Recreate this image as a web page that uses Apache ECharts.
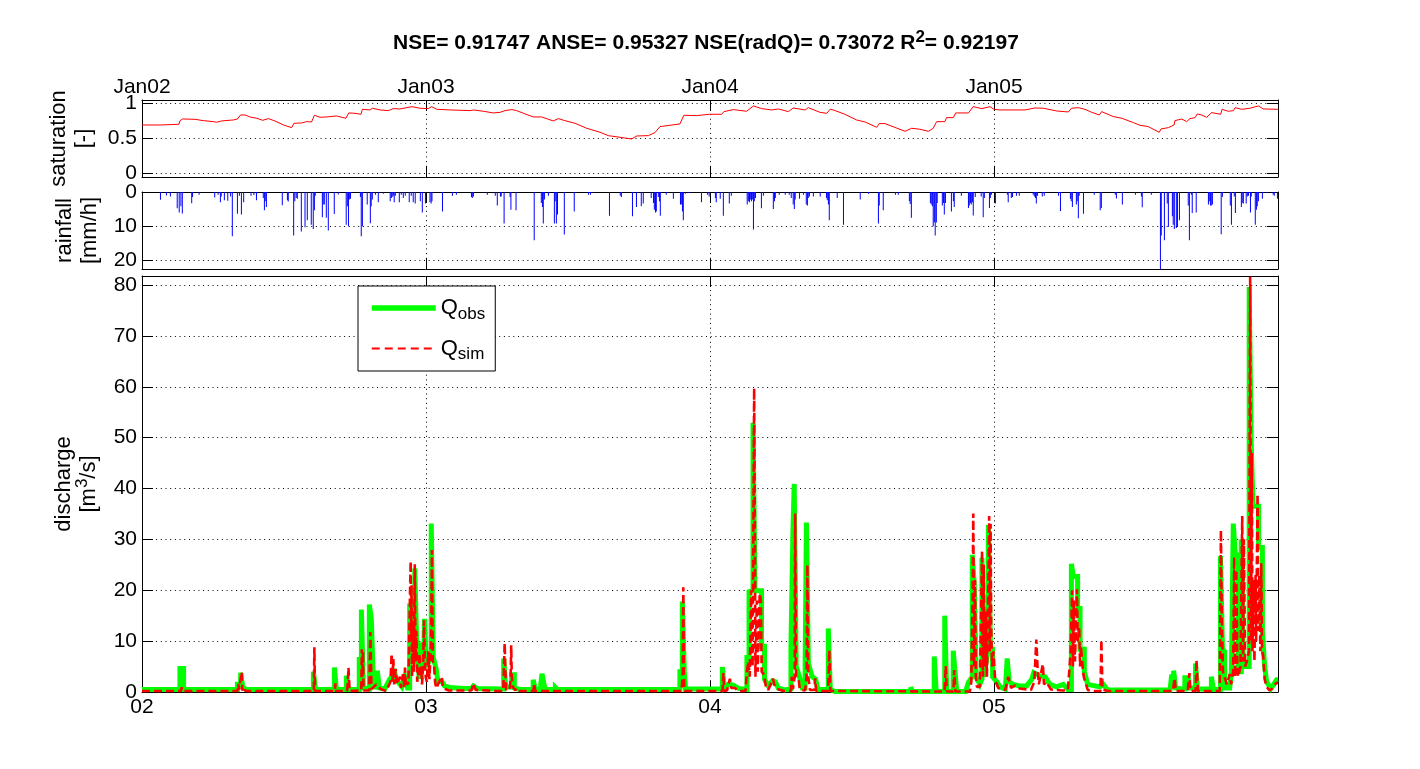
<!DOCTYPE html>
<html><head><meta charset="utf-8">
<style>html,body{margin:0;padding:0;background:#fff}#c{width:1420px;height:769px}</style>
<script src="https://cdn.jsdelivr.net/npm/echarts@6/dist/echarts.min.js"></script></head>
<body><div id="c"></div>
<script>
// x values are years after Jan 02 (0..4)
const topTickLabels = ['Jan02','Jan03','Jan04','Jan05'];
const bottomTickLabels = ['02','03','04','05'];
const satTicks = [0,0.5,1];
const rainTicks = [0,10,20];
const qTicks = [0,10,20,30,40,50,60,70,80];

const saturation = [[0,.69],[.063,.69],[.065,.70],[.130,.70],[.134,.752],[.143,.776],[.187,.771],[.216,.752],[.251,.738],[.263,.729],[.281,.748],[.322,.762],[.336,.776],[.347,.833],[.363,.833],[.380,.805],[.404,.786],[.425,.757],[.445,.781],[.468,.748],[.498,.69],[.527,.652],[.535,.714],[.562,.719],[.580,.738],[.597,.733],[.607,.829],[.627,.80],[.650,.805],[.656,.833],[.685,.819],[.718,.786],[.728,.862],[.750,.857],[.771,.843],[.776,.914],[.803,.905],[.812,.929],[.838,.905],[.867,.895],[.885,.924],[.908,.919],[.950,.952],[.979,.929],[1.008,.924],[1.020,.952],[1.038,.914],[1.085,.905],[1.155,.895],[1.167,.905],[1.202,.886],[1.237,.862],[1.261,.871],[1.278,.895],[1.302,.91],[1.319,.895],[1.349,.848],[1.378,.805],[1.407,.805],[1.448,.748],[1.466,.781],[1.489,.752],[1.525,.714],[1.566,.643],[1.613,.586],[1.642,.538],[1.648,.552],[1.683,.514],[1.724,.49],[1.742,.533],[1.783,.538],[1.806,.581],[1.824,.667],[1.894,.705],[1.908,.829],[1.953,.824],[1.998,.843],[2.041,.843],[2.049,.881],[2.082,.91],[2.129,.886],[2.153,.962],[2.182,.924],[2.217,.905],[2.241,.919],[2.276,.881],[2.293,.933],[2.335,.905],[2.346,.938],[2.387,.871],[2.411,.857],[2.423,.914],[2.434,.905],[2.475,.843],[2.516,.762],[2.546,.733],[2.587,.657],[2.596,.71],[2.616,.71],[2.687,.6],[2.710,.643],[2.739,.629],[2.769,.6],[2.786,.643],[2.798,.738],[2.827,.738],[2.833,.795],[2.857,.795],[2.865,.862],[2.910,.862],[2.927,.952],[2.957,.924],[2.962,.948],[2.986,.952],[3.0,.914],[3.021,.905],[3.109,.905],[3.144,.933],[3.174,.929],[3.221,.89],[3.262,.876],[3.273,.929],[3.297,.938],[3.320,.914],[3.344,.871],[3.371,.833],[3.379,.881],[3.420,.81],[3.450,.786],[3.491,.724],[3.514,.686],[3.543,.667],[3.582,.586],[3.588,.633],[3.614,.652],[3.634,.69],[3.637,.752],[3.661,.776],[3.678,.738],[3.690,.781],[3.708,.795],[3.716,.848],[3.731,.833],[3.749,.80],[3.766,.867],[3.798,.843],[3.803,.914],[3.825,.886],[3.843,.895],[3.849,.938],[3.872,.914],[3.878,.938],[3.901,.929],[3.907,.952],[3.931,.962],[3.948,.919],[4,.914]];

const rainfall = [[.065,2.3],[.086,1],[.100,1.3],[.124,4.8],[.131,6],[.137,4.2],[.142,6.3],[.175,3.3],[.178,1.5],[.201,.8],[.256,1.6],[.268,.8],[.276,3],[.279,1.3],[.290,2.4],[.302,2.6],[.312,1.3],[.318,13],[.336,6.4],[.343,1.1],[.350,6.6],[.358,3],[.384,1.1],[.394,.9],[.403,2.4],[.427,1.8],[.431,5.4],[.434,2.7],[.438,4.4],[.494,3.9],[.512,2.4],[.515,2.8],[.534,12.8],[.538,2.7],[.543,1.8],[.547,2],[.561,11.6],[.574,10.4],[.582,8.3],[.596,9.6],[.603,10.9],[.607,5.4],[.610,1.1],[.635,7.4],[.638,3.7],[.642,3.7],[.649,7.6],[.656,11.3],[.677,6.5],[.691,.7],[.719,9.6],[.723,4.2],[.727,10.1],[.730,2.2],[.734,2],[.769,1.5],[.772,13],[.776,10.1],[.793,3.7],[.804,9.2],[.807,4.2],[.811,2.2],[.822,.8],[.832,3],[.850,.5],[.874,2.7],[.878,1.8],[.881,1.5],[.885,1.1],[.888,3],[.892,1.1],[.906,3],[.913,.8],[.920,1.8],[.927,1.1],[.941,3],[.948,1.1],[.955,3],[.962,3.4],[.980,2.7],[.987,6],[.998,3.4],[1.014,3],[1.018,3.4],[1.021,2.7],[1.058,5.7],[1.093,1.1],[1.107,.8],[1.160,1.5],[1.163,1.8],[1.167,1.3],[1.216,.8],[1.244,1.1],[1.251,4],[1.262,1.3],[1.265,1.3],[1.275,9.3],[1.296,1.5],[1.299,5.2],[1.317,5.4],[1.381,14.2],[1.406,3.2],[1.410,4.4],[1.413,9.3],[1.417,2.2],[1.431,1.1],[1.452,9.3],[1.455,2.7],[1.459,9.3],[1.463,6.6],[1.487,12.5],[1.522,5.7],[1.572,.8],[1.579,.8],[1.589,.3],[1.646,7],[1.684,1.1],[1.688,1.5],[1.727,7.1],[1.741,4.4],[1.758,4.2],[1.765,3.4],[1.793,1.8],[1.801,3.2],[1.804,5.2],[1.808,6],[1.811,5.7],[1.818,1.5],[1.822,2.7],[1.825,7],[1.846,.8],[1.871,2],[1.896,3.7],[1.899,3.7],[1.903,5.7],[1.906,8.3],[1.913,.5],[1.924,.3],[1.970,3],[1.991,.8],[1.997,1.3],[2.019,1.8],[2.022,3],[2.036,2],[2.047,7],[2.068,3.4],[2.075,1.1],[2.131,3.7],[2.135,2.7],[2.139,3],[2.142,2.2],[2.146,2.7],[2.149,2.2],[2.153,11],[2.156,2.7],[2.160,1.8],[2.181,4.8],[2.188,1.1],[2.223,5],[2.227,2.7],[2.230,1.8],[2.244,.8],[2.265,.8],[2.279,.8],[2.286,1.8],[2.293,3.7],[2.297,5],[2.300,2.2],[2.315,2],[2.329,.8],[2.339,3.7],[2.343,4],[2.346,1.8],[2.350,1.3],[2.364,1.3],[2.388,1.3],[2.410,1.8],[2.413,2.4],[2.417,3.7],[2.420,8.3],[2.448,1.8],[2.470,9.6],[2.529,2.2],[2.558,.5],[2.593,9.3],[2.596,4],[2.610,5.4],[2.653,.8],[2.663,.8],[2.702,2.7],[2.705,3.5],[2.709,7.6],[2.776,3.2],[2.779,3.7],[2.783,4.2],[2.786,10.1],[2.790,8.9],[2.793,12.8],[2.797,9],[2.800,3.2],[2.818,4],[2.822,3.2],[2.825,6.6],[2.829,3.2],[2.850,5.7],[2.857,2.7],[2.860,4.4],[2.885,1.1],[2.910,4.7],[2.913,4],[2.917,3.2],[2.920,3.7],[2.924,3],[2.927,6.9],[2.934,1.5],[2.955,1.3],[2.962,7.4],[2.966,1.8],[2.984,4.7],[2.987,1.8],[2.991,.8],[3.005,3.4],[3.047,.8],[3.050,3],[3.061,1.8],[3.065,1.5],[3.079,1.1],[3.089,1.1],[3.138,.8],[3.142,1.3],[3.146,1.8],[3.149,3.4],[3.153,1.1],[3.170,1.3],[3.177,1.1],[3.227,1.1],[3.234,5.6],[3.269,2],[3.272,2.7],[3.276,4.4],[3.290,3.7],[3.293,2.7],[3.297,7.7],[3.300,1.1],[3.315,6.4],[3.353,.8],[3.374,5.4],[3.378,4.7],[3.427,.8],[3.431,1.9],[3.452,3.7],[3.498,.8],[3.519,1.3],[3.522,4.5],[3.554,.8],[3.586,23],[3.589,12.8],[3.600,14.2],[3.610,3.4],[3.614,10.3],[3.628,7.1],[3.631,9.6],[3.635,10.9],[3.642,10.6],[3.646,10.3],[3.653,8.3],[3.684,4],[3.688,14.2],[3.695,.8],[3.698,6.2],[3.712,6],[3.755,3.7],[3.758,2.7],[3.762,4],[3.765,4],[3.769,3.7],[3.800,12.4],[3.804,1.5],[3.832,4],[3.836,9.6],[3.846,1.3],[3.850,6.2],[3.871,4.4],[3.874,3.2],[3.878,3.4],[3.888,3.4],[3.892,1.3],[3.896,1.1],[3.903,6],[3.906,1.3],[3.920,9.6],[3.924,5.2],[3.927,4.2],[3.931,2.7],[3.945,2],[3.959,.3],[3.983,.8],[3.987,1.1],[3.998,2]];

const qObs = [[0,.5],[.1335,.5],[.1335,4.6],[.1465,4.6],[.1465,.5],[.336,.5],[.336,1.5],[.3475,1.5],[.3475,3.8],[.3545,3.8],[.3545,1],[.366,.5],[.6035,.5],[.6035,4],[.6105,4],[.6105,.5],[.6775,.5],[.6775,4.8],[.6845,4.8],[.6845,.5],[.7195,.5],[.7195,3.2],[.7265,3.2],[.7265,.5],[.765,.5],[.765,6.4],[.7725,6.4],[.7725,16.2],[.7795,16.2],[.7795,.8],[.8005,.6],[.8005,17.2],[.8075,17.2],[.8075,14.4],[.813,14.4],[.813,4.5],[.820,1],[.8285,1],[.8285,4.2],[.8355,4.2],[.8355,.8],[.855,.6],[.872,2.5],[.880,3],[.8875,3],[.8875,4.6],[.8945,4.6],[.8945,2.5],[.908,1.5],[.915,1],[.925,3],[.935,.8],[.9425,.8],[.9425,17.4],[.9495,17.4],[.9495,6],[.9605,6],[.9605,24.3],[.9675,24.3],[.9675,9],[.976,3],[.9845,3],[.9845,9.8],[.9915,9.8],[.9915,5],[.9945,5],[.9945,14.4],[1.0015,14.4],[1.0015,5],[1.0185,7],[1.0185,33.1],[1.0255,33.1],[1.0255,6.8],[1.036,4.5],[1.042,2],[1.055,2.2],[1.065,1.2],[1.085,.9],[1.131,.7],[1.160,.7],[1.167,1.2],[1.18,.7],[1.265,.6],[1.2735,.6],[1.2735,6.6],[1.2805,6.6],[1.2805,1],[1.302,1],[1.302,3.4],[1.311,3.4],[1.311,.8],[1.33,.5],[1.3775,.5],[1.3775,2.4],[1.3845,2.4],[1.3845,.5],[1.404,.5],[1.404,1.5],[1.4085,1.5],[1.4085,3.6],[1.4155,3.6],[1.4155,1.5],[1.42,1.5],[1.42,.5],[1.4555,.5],[1.4555,.9],[1.4625,.9],[1.4625,.5],[1.894,.5],[1.894,4],[1.9025,4],[1.9025,17.8],[1.9095,17.8],[1.9095,4],[1.914,4],[1.914,.6],[2.0435,.6],[2.0435,4.9],[2.0505,4.9],[2.0505,.8],[2.065,1.5],[2.08,1.4],[2.10,.7],[2.13,.5],[2.13,6.8],[2.1375,6.8],[2.1375,19.7],[2.1445,19.7],[2.1445,20],[2.1515,20],[2.1515,52.9],[2.1585,52.9],[2.1585,19.9],[2.1815,19.9],[2.1815,9],[2.192,9],[2.192,2.5],[2.205,1.2],[2.22,2.2],[2.23,2],[2.24,.8],[2.262,.4],[2.285,.6],[2.285,8.8],[2.292,8.8],[2.292,31.5],[2.2965,31.5],[2.2965,40.9],[2.3035,40.9],[2.3035,5],[2.315,3],[2.325,.8],[2.335,.8],[2.335,6.2],[2.3395,6.2],[2.3395,33.3],[2.3465,33.3],[2.3465,5.5],[2.36,3],[2.372,2.5],[2.38,.5],[2.4165,.5],[2.4165,12.5],[2.4235,12.5],[2.4235,.5],[2.44,.1],[2.7065,.1],[2.7065,.9],[2.7135,.9],[2.7135,.1],[2.7895,.1],[2.7895,7],[2.7965,7],[2.7965,.1],[2.8265,.1],[2.8265,15],[2.8335,15],[2.8335,.1],[2.8565,.1],[2.8565,8.1],[2.8635,8.1],[2.8635,3.5],[2.869,3.5],[2.869,.1],[2.90,.1],[2.91,1.9],[2.9235,3],[2.9235,27],[2.9305,27],[2.9305,21.2],[2.937,21.2],[2.937,3],[2.95,1.5],[2.9575,2.5],[2.9575,26.4],[2.9645,26.4],[2.9645,3],[2.978,8],[2.9805,8],[2.9805,32.8],[2.9875,32.8],[2.9875,8.4],[2.995,8.4],[2.995,3],[3.01,2],[3.021,1],[3.04,.6],[3.0465,.6],[3.0465,6.6],[3.0535,6.6],[3.0535,2],[3.068,1.5],[3.09,1.2],[3.115,1.2],[3.133,2.5],[3.14,3.8],[3.16,3.2],[3.18,3],[3.197,1.5],[3.22,1],[3.244,1.5],[3.26,.5],[3.2725,.5],[3.2725,25.2],[3.2795,25.2],[3.2795,22.7],[3.2945,22.7],[3.2945,16.4],[3.303,16.4],[3.303,8.4],[3.318,8.4],[3.318,4],[3.33,1.5],[3.373,1],[3.385,1.5],[3.40,.4],[3.62,.4],[3.625,3],[3.6325,3],[3.6325,4.2],[3.6395,4.2],[3.6395,.8],[3.66,.6],[3.672,.6],[3.672,2.8],[3.684,2.8],[3.684,.8],[3.7095,.8],[3.7095,5.6],[3.7165,5.6],[3.7165,.6],[3.7655,.6],[3.7655,3],[3.7725,3],[3.7725,.5],[3.7975,.5],[3.7975,26.7],[3.8045,26.7],[3.8045,8.4],[3.812,8],[3.812,.8],[3.83,.8],[3.836,4],[3.8425,4],[3.8425,33.1],[3.8495,33.1],[3.8495,27.1],[3.86,27],[3.86,4],[3.8705,4],[3.8705,30],[3.8775,30],[3.8775,5],[3.8985,5],[3.8985,79.6],[3.9055,79.6],[3.9055,49.3],[3.912,49.3],[3.912,36.5],[3.9315,36.5],[3.9315,28.4],[3.945,28.4],[3.945,12],[3.953,5],[3.96,2],[3.975,.7],[3.985,1.5],[3.995,2.4],[4,2.4]];

const qSim = [[0,.2],[.137,.2],[.14,.9],[.143,.2],[.336,.2],[.339,1.6],[.342,.5],[.349,.5],[.351,3.9],[.353,.3],[.360,1],[.364,.2],[.605,.2],[.607,8.8],[.609,.2],[.679,.2],[.681,1.7],[.683,.2],[.722,.2],[.725,2],[.727,4.8],[.729,2.5],[.731,.2],[.772,.3],[.774,8.4],[.776,3],[.778,8],[.78,.3],[.80,.3],[.804,11.8],[.808,.6],[.815,.3],[.825,1.5],[.83,1.6],[.84,.6],[.86,.2],[.875,2],[.879,7.5],[.882,2],[.885,6.5],[.888,1.5],[.893,4.5],[.898,1.5],[.908,3],[.912,.8],[.919,3.5],[.924,1],[.926,4.8],[.929,1],[.935,2],[.938,1.5],[.9445,22],[.946,25.7],[.9475,10],[.949,21],[.951,3],[.954,14],[.957,4],[.9605,25.1],[.963,6],[.966,12],[.969,2],[.974,4],[.977,7.6],[.98,3],[.983,5],[.986,1.5],[.99,6],[.993,14.1],[.996,6],[.999,3],[1.003,2],[1.008,8],[1.012,2.5],[1.018,10],[1.021,27.9],[1.024,6],[1.028,5.5],[1.032,2],[1.036,.7],[1.04,.5],[1.055,3],[1.06,.8],[1.08,.3],[1.16,.3],[1.167,1.7],[1.175,.4],[1.25,.2],[1.272,.2],[1.275,6],[1.277,9.6],[1.279,5],[1.282,.5],[1.295,.4],[1.298,3],[1.30,9.2],[1.302,3],[1.306,1],[1.315,.3],[1.32,.8],[1.33,.2],[1.378,.2],[1.381,1.7],[1.384,.2],[1.90,.2],[1.904,4],[1.906,20.6],[1.908,4],[1.91,.2],[2.044,.2],[2.047,3.7],[2.05,.2],[2.06,.3],[2.07,2.6],[2.075,.8],[2.088,.8],[2.10,.2],[2.125,.2],[2.13,4],[2.135,6],[2.14,3],[2.145,20],[2.15,5],[2.153,35],[2.1555,59.7],[2.158,30],[2.16,3],[2.165,18],[2.168,4],[2.175,19.4],[2.179,18],[2.182,4],[2.19,3.4],[2.197,1],[2.205,.4],[2.222,2.6],[2.226,1.5],[2.235,.6],[2.26,.2],[2.285,.2],[2.288,3],[2.292,.6],[2.298,3],[2.30,35.1],[2.303,3],[2.312,2.6],[2.316,.5],[2.335,.3],[2.34,3],[2.343,25],[2.346,3],[2.352,.4],[2.368,.4],[2.37,2.7],[2.374,.2],[2.416,.2],[2.42,8.2],[2.424,.2],[2.826,.1],[2.83,5.1],[2.834,.1],[2.857,.1],[2.86,4.3],[2.864,.1],[2.915,.1],[2.92,2],[2.925,20],[2.927,35.1],[2.93,5],[2.933,22],[2.936,3],[2.94,1],[2.95,1],[2.958,27.7],[2.961,3],[2.964,25],[2.967,5],[2.972,15.8],[2.975,3],[2.98,20],[2.983,34.6],[2.985,8],[2.988,33],[2.99,13.5],[2.993,5],[2.998,8],[3.004,2.4],[3.015,.8],[3.04,.4],[3.05,3],[3.06,.8],[3.075,1.3],[3.09,.7],[3.13,.4],[3.142,2],[3.149,10.3],[3.154,4],[3.158,1.5],[3.172,5.5],[3.176,1.5],[3.185,2],[3.2,.5],[3.24,.3],[3.26,.3],[3.27,8],[3.275,20],[3.278,5],[3.281,18],[3.285,6],[3.292,20.2],[3.295,10],[3.30,12.8],[3.303,5],[3.306,9],[3.312,5],[3.316,3],[3.33,.4],[3.345,.2],[3.375,.2],[3.378,10.2],[3.382,.5],[3.40,.2],[3.63,.2],[3.636,2.7],[3.64,.2],[3.682,.2],[3.688,3.7],[3.692,.2],[3.71,.2],[3.713,6.3],[3.718,.2],[3.795,.2],[3.799,31.8],[3.802,15],[3.806,4],[3.82,1.5],[3.83,3.5],[3.835,1.5],[3.842,4],[3.846,26.5],[3.849,3],[3.853,24],[3.857,4],[3.86,3],[3.868,5],[3.874,34.6],[3.877,6],[3.88,30],[3.884,5],[3.89,6],[3.898,8],[3.902,81.6],[3.905,10],[3.908,47],[3.91,8],[3.914,22],[3.917,6],[3.921,23],[3.923,10],[3.928,38.9],[3.931,12],[3.934,23],[3.938,8],[3.941,25.3],[3.944,8],[3.948,7],[3.953,2.5],[3.96,1],[3.97,.3],[3.98,.7],[3.985,1.2],[3.995,1.8],[4,1.8]];

const FONT = 'Liberation Sans';
const FS = 21;
const frame = {show:true,onZero:false,lineStyle:{color:'#000',width:1}};
const ticks = {show:true,inside:true,length:11,lineStyle:{color:'#000',width:1}};
const dotted = {show:true,lineStyle:{color:'#000',width:1,type:[1,3.7]}};
const rich = {
  sup:{fontFamily:FONT,fontSize:17,padding:[0,0,12,0],color:'#000'},
  sub:{fontFamily:FONT,fontSize:17,padding:[12,0,0,0],color:'#000'},
  q:{fontFamily:FONT,fontSize:22,color:'#000'}
};

function xPair(g,labels,labelPos,margin){
  return [
    {type:'value',gridIndex:g,position:labelPos,min:0,max:4,interval:1,axisLine:frame,axisTick:ticks,splitLine:dotted,
     axisLabel:{show:true,color:'#000',fontFamily:FONT,fontSize:FS,margin:margin,showMinLabel:true,showMaxLabel:false,
       formatter:v=>labels?(labels[v]||''):''}},
    {type:'value',gridIndex:g,position:labelPos==='top'?'bottom':'top',min:0,max:4,interval:1,axisLine:frame,axisTick:ticks,splitLine:{show:false},axisLabel:{show:false}}
  ];
}
function yPair(g,min,max,vals,inverse,name,gap){
  const custom = vals;
  return [
    {type:'value',gridIndex:g,position:'left',min,max,inverse,axisLine:frame,
     axisTick:Object.assign({customValues:custom},ticks),splitLine:dotted,
     axisLabel:{customValues:custom,color:'#000',fontFamily:FONT,fontSize:FS,margin:5,showMinLabel:true,showMaxLabel:true,hideOverlap:false},
     name,nameLocation:'middle',nameGap:gap,nameRotate:90,
     nameTextStyle:{color:'#000',fontFamily:FONT,fontSize:22,lineHeight:25,rich}},
    {type:'value',gridIndex:g,position:'right',min,max,inverse,axisLine:frame,
     axisTick:Object.assign({customValues:custom},ticks),splitLine:{show:false},axisLabel:{show:false}}
  ];
}

const option = {
  animation:false,
  backgroundColor:'#fff',
  title:{text:'NSE= 0.91747 ANSE= 0.95327 NSE(radQ)= 0.73072 R{sup|2}= 0.92197',left:388,top:24,
    textStyle:{fontFamily:FONT,fontSize:21,fontWeight:'bold',color:'#000',rich:{sup:{fontFamily:FONT,fontSize:17,fontWeight:'bold',padding:[0,0,12,0],color:'#000'}}}},
  grid:[
    {left:142,width:1136,top:100,height:77},
    {left:142,width:1136,top:192,height:77},
    {left:142,width:1136,top:276,height:416}
  ],
  xAxis:[...xPair(0,topTickLabels,'top',2),...xPair(1,null,'bottom',4),...xPair(2,bottomTickLabels,'bottom',5)],
  yAxis:[
    ...yPair(0,-0.053,1.047,satTicks,false,'saturation\n[-]',38),
    ...yPair(1,0,22.65,rainTicks,true,'rainfall\n[mm/h]',33),
    ...yPair(2,0,81.77,qTicks,false,'discharge\n[m{sup|3}/s]',41)
  ],
  legend:{left:358,top:286,width:137,orient:'vertical',padding:[11,10,8,11],itemGap:15,itemWidth:64,itemHeight:26,
    backgroundColor:'#fff',borderColor:'#000',borderWidth:1,borderRadius:0,selectedMode:false,
    itemStyle:{opacity:0},
    data:[{name:'obs',lineStyle:{width:5.5}},{name:'sim',lineStyle:{width:2,type:[8,5]}}],
    formatter:n=>'{q|Q}{sub|'+n+'}',
    textStyle:{rich,fontFamily:FONT,fontSize:FS,color:'#000'}},
  series:[
    {name:'saturation',type:'line',xAxisIndex:0,yAxisIndex:0,data:saturation,symbol:'none',sampling:'none',
     lineStyle:{color:'#ff0000',width:1},itemStyle:{color:'#ff0000'}},
    {name:'rainfall',type:'bar',xAxisIndex:2,yAxisIndex:2,data:rainfall,barWidth:1,itemStyle:{color:'#0000ff'}},
    {name:'obs',type:'line',xAxisIndex:4,yAxisIndex:4,data:qObs,symbol:'none',z:3,
     lineStyle:{color:'#00ff00',width:5,join:'miter',miterLimit:4},itemStyle:{color:'#00ff00'}},
    {name:'sim',type:'line',xAxisIndex:4,yAxisIndex:4,data:qSim,symbol:'none',z:4,
     lineStyle:{color:'#ff0000',width:2.6,type:[8,4]},itemStyle:{color:'#ff0000'}}
  ]
};
echarts.init(document.getElementById('c'),null,{renderer:'canvas'}).setOption(option);
</script></body></html>
